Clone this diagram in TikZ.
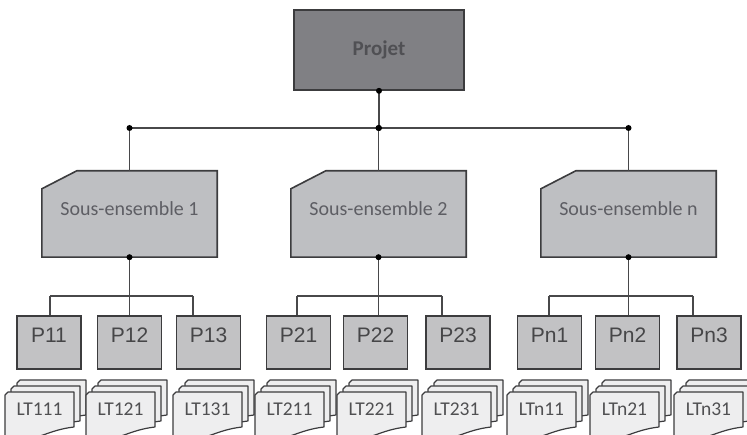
\documentclass[tikz,border=0pt]{standalone}
\usepackage{fontspec}
\setmainfont{Carlito}
\newfontfamily\pfont{Liberation Sans}
\definecolor{boxline}{HTML}{3C3C3E}
\definecolor{connline}{HTML}{48484A}
\definecolor{projfill}{HTML}{808084}
\definecolor{projtext}{HTML}{505054}
\definecolor{subfill}{HTML}{BEBFC2}
\definecolor{subtext}{HTML}{5E5E64}
\definecolor{pfill}{HTML}{C2C2C4}
\definecolor{ptext}{HTML}{464648}
\definecolor{ltfill}{HTML}{EEEEEF}
\definecolor{lttext}{HTML}{505052}

% one sheet of a document stack: #1 = left x, #2 = top y
\newcommand{\docpage}[2]{%
  \draw[ltpage] ({#1},{#2+3}) -- ({#1+3},{#2}) -- ({#1+69},{#2}) -- ({#1+69},{#2+35})
    .. controls ({#1+52},{#2+37}) and ({#1+42},{#2+42}) .. ({#1+32},{#2+45})
    .. controls ({#1+20},{#2+49}) and ({#1+10},{#2+50}) .. ({#1},{#2+48}) -- cycle;}
% stack of three sheets with its label: #1 = name, #2 = left x of front sheet, #3 = text
\newcommand{\ltstack}[3]{%
  \docpage{#2+12}{380}
  \docpage{#2+6}{386}
  \docpage{#2}{392}
  \node[ltlabel] (#1) at ({#2+34.5},409) {#3};}

\begin{document}
\begin{tikzpicture}[x=1pt,y=-1pt,
  projbox/.style={draw=boxline, fill=projfill, line width=1.6pt, minimum width=170pt,
    minimum height=80pt, inner sep=0pt, font=\fontsize{21}{24}\selectfont\bfseries, text=projtext},
  subbox/.style={draw=none, minimum width=175pt, minimum height=86pt, inner sep=0pt},
  subshape/.style={draw=boxline, fill=subfill, line width=1.6pt, line join=miter},
  sublabel/.style={font=\fontsize{20}{24}\selectfont, text=subtext, inner sep=0pt},
  pbox/.style={draw=boxline, fill=pfill, line width=1.5pt, minimum width=64pt,
    minimum height=53pt, inner sep=0pt},
  plabel/.style={font=\pfont\fontsize{21}{25}\selectfont, text=ptext, inner sep=0pt},
  ltpage/.style={draw=boxline, fill=ltfill, line width=1.2pt, line join=round},
  ltlabel/.style={font=\fontsize{19.5}{23}\selectfont, text=lttext, inner sep=0pt},
  conn/.style={draw=connline, line width=1.8pt},
  jdot/.style={fill=black}
]
\useasboundingbox (0,0) rectangle (747,435);
\clip (0,0) rectangle (747,435);

% top level
\node[projbox] (proj) at (379,50) {\raisebox{-6pt}{Projet}};

% sub-assemblies
\foreach \nm/\cx/\txt in {s1/129.5/Sous-ensemble 1, s2/378.5/Sous-ensemble 2, sn/628.5/Sous-ensemble n}{
  \node[subbox] (\nm) at (\cx,214) {};
  \draw[subshape] ([yshift=-18pt]\nm.north west) -- ([xshift=35pt]\nm.north west)
    -- (\nm.north east) -- (\nm.south east) -- (\nm.south west) -- cycle;
  \node[sublabel] at ([yshift=5pt]\nm.center) {\txt};
}

% first level bus
\coordinate (bus) at (378.5,128);
\draw[conn] (proj.south) -- (proj.south |- bus);
\draw[conn] (s1.north |- bus) -- (sn.north |- bus);
\foreach \nm in {s1,s2,sn}{
  \draw[conn] (\nm.north |- bus) -- (\nm.north);
  \fill[jdot] (\nm.north |- bus) circle (3pt);
}
\fill[jdot] (proj.south) circle (3pt);
\fill[jdot] (proj.south |- bus) circle (3pt);

% work packages
\foreach \nm/\cx/\txt in {p11/49/P11, p12/129.5/P12, p13/208.5/P13,
                          p21/298.5/P21, p22/375.5/P22, p23/458/P23,
                          pn1/549.5/Pn1, pn2/627.5/Pn2, pn3/709/Pn3}{
  \node[pbox] (\nm) at (\cx,342.5) {};
  \node[plabel] at ([yshift=7pt]\nm.center) {\txt};
}

% second level buses
\foreach \s/\a/\b/\c/\xa/\xb/\xc in {s1/p11/p12/p13/50/129.5/193,
                                     s2/p21/p22/p23/297/378.5/442,
                                     sn/pn1/pn2/pn3/549/628.5/693}{
  \coordinate (\s-a) at (\xa,296);
  \coordinate (\s-b) at (\xb,296);
  \coordinate (\s-c) at (\xc,296);
  \draw[conn] (\s.south) -- (\s-b);
  \draw[conn] (\s-a) -- (\s-c);
  \draw[conn] (\s-a) -- (\s-a |- \a.north);
  \draw[conn] (\s-b) -- (\s-b |- \b.north);
  \draw[conn] (\s-c) -- (\s-c |- \c.north);
  \fill[jdot] (\s.south) circle (3pt);
}

% task lists
\ltstack{lt111}{5}{LT111}
\ltstack{lt121}{86}{LT121}
\ltstack{lt131}{173}{LT131}
\ltstack{lt211}{255}{LT211}
\ltstack{lt221}{337}{LT221}
\ltstack{lt231}{422}{LT231}
\ltstack{ltn11}{507}{LTn11}
\ltstack{ltn21}{590}{LTn21}
\ltstack{ltn31}{674}{LTn31}
\end{tikzpicture}
\end{document}
